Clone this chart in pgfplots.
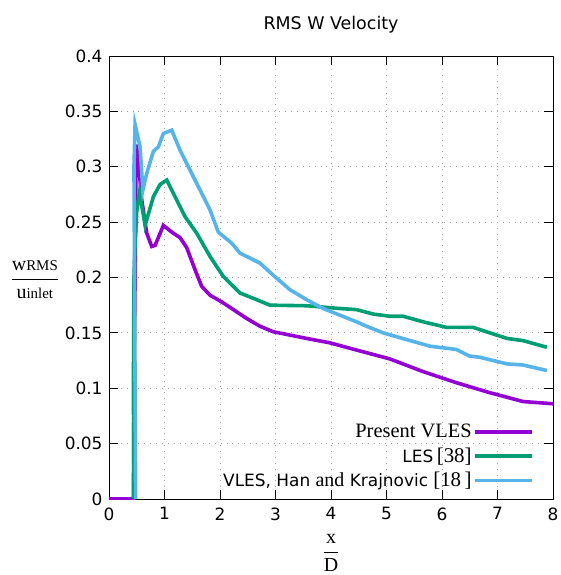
\documentclass[border=0pt]{standalone}
\usepackage{amsmath}
\usepackage{fontspec}
\setmainfont{DejaVu Sans}
\newfontfamily\serif{Liberation Serif}
\usepackage{pgfplots}
\pgfplotsset{compat=1.18}
\definecolor{cpur}{RGB}{148,0,211}
\definecolor{cgrn}{RGB}{0,158,115}
\definecolor{cblu}{RGB}{86,180,233}
\begin{document}
\begin{tikzpicture}
\useasboundingbox (-109bp,-76bp) rectangle (452bp,499bp);
\begin{axis}[
  scale only axis, width=444bp, height=443bp,
  xmin=0, xmax=8, ymin=0, ymax=0.4,
  xtick={0,1,...,8}, ytick={0,0.05,...,0.4},
  yticklabels={0,0.05,0.1,0.15,0.2,0.25,0.3,0.35,0.4},
  /pgf/number format/assume math mode=true,
  tick label style={font=\fontsize{17}{20}\selectfont},
  xticklabel style={yshift=-5pt},
  yticklabel style={xshift=-3pt},
  major tick length=9bp,
  tick style={black, line width=0.8pt},
  axis line style={line width=0.8pt},
  grid=major,
  major grid style={gray!70, line width=0.9pt, dash pattern=on 0.9pt off 5pt},
  title={RMS W Velocity},
  title style={font=\fontsize{17.5}{20}\selectfont, yshift=13pt},
  xlabel={\serif\fontsize{20}{22}\selectfont $\dfrac{\mbox{\serif x}}{\mbox{\serif D}}$},
  xlabel style={at={(axis description cs:0.5,0)}, anchor=north, yshift=-32bp},
  ylabel={\serif\fontsize{20}{22}\selectfont $\dfrac{\mbox{\serif w{\fontsize{15}{16}\selectfont RMS}}}{\mbox{\serif u{\fontsize{15}{16}\selectfont inlet}}}$},
  ylabel style={rotate=-90, at={(axis description cs:-0.167,0.495)}, anchor=center},
  legend plot pos=right,
  legend cell align=right,
  legend style={at={(0.965,0.178)}, anchor=north east, draw=none, fill=none,
    font=\fontsize{17}{20}\selectfont, row sep=4.5pt},
  legend image code/.code={\draw[#1] (0bp,0bp) -- (57bp,0bp);},
]
\addplot[cpur, line width=3.6bp] coordinates {
(0,0)(0.44,0)(0.45,0.1)(0.47,0.2)(0.49,0.32)(0.53,0.305)(0.59,0.27)(0.68,0.24)(0.77,0.228)(0.83,0.229)(0.98,0.247)(1.13,0.241)(1.28,0.236)(1.40,0.227)(1.55,0.207)(1.67,0.192)(1.82,0.184)(2.03,0.178)(2.24,0.171)(2.48,0.163)(2.72,0.156)(2.96,0.151)(3.56,0.145)(3.98,0.141)(4.46,0.1345)(5.06,0.1265)(5.66,0.115)(6.26,0.105)(6.86,0.096)(7.46,0.088)(8.0,0.086)};
\addlegendentry{{\serif\fontsize{20.5}{22}\selectfont Present VLES}}
\addplot[cgrn, line width=3.6bp] coordinates {
(0.45,0)(0.44,0.1)(0.45,0.2)(0.47,0.23)(0.5,0.26)(0.55,0.277)(0.65,0.247)(0.8,0.273)(0.92,0.284)(1.04,0.288)(1.19,0.273)(1.37,0.255)(1.58,0.240)(1.82,0.219)(2.06,0.201)(2.36,0.186)(2.66,0.180)(2.9,0.175)(3.56,0.1745)(4.16,0.172)(4.46,0.171)(4.76,0.167)(5.06,0.165)(5.30,0.165)(5.66,0.160)(6.08,0.155)(6.56,0.155)(6.80,0.151)(7.17,0.145)(7.46,0.143)(7.89,0.137)};
\addlegendentry{LES{\serif\fontsize{21}{22}\selectfont\,[38]}}
\addplot[cblu, line width=3.6bp] coordinates {
(0.48,0)(0.47,0.1)(0.46,0.2)(0.45,0.3)(0.47,0.338)(0.56,0.318)(0.61,0.279)(0.68,0.294)(0.8,0.314)(0.89,0.318)(0.98,0.330)(1.13,0.333)(1.28,0.315)(1.49,0.294)(1.64,0.279)(1.82,0.261)(1.97,0.241)(2.21,0.231)(2.36,0.222)(2.72,0.213)(2.96,0.202)(3.26,0.189)(3.56,0.180)(3.86,0.172)(4.16,0.166)(4.46,0.160)(4.64,0.156)(4.94,0.150)(5.36,0.144)(5.78,0.138)(6.26,0.135)(6.50,0.129)(6.68,0.128)(7.17,0.122)(7.46,0.121)(7.89,0.116)};
\addlegendentry{VLES, Han {\serif\fontsize{20}{22}\selectfont and} Krajnovic{\serif\fontsize{21}{22}\selectfont\ [18\,]}}
\end{axis}
\end{tikzpicture}
\end{document}
